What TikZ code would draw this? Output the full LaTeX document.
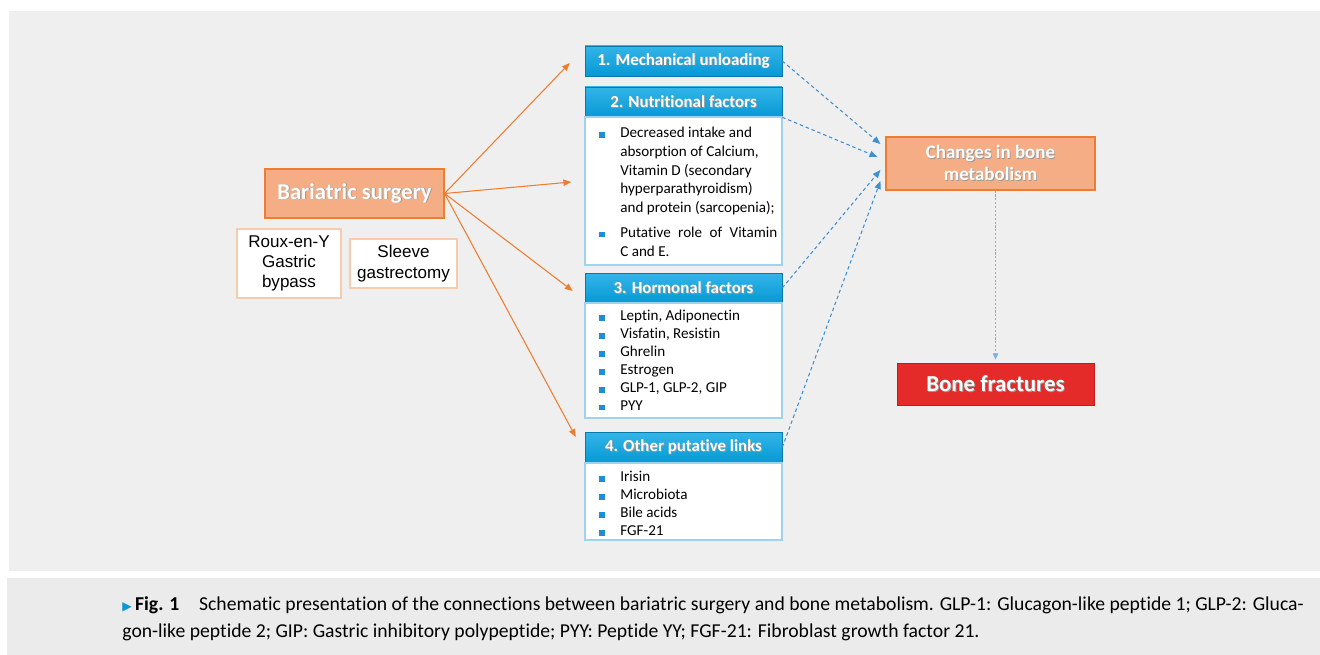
\documentclass[tikz,border=0pt]{standalone}
\usepackage{fontspec}
\usepackage{array}
\setmainfont{Carlito}[Ligatures=NoCommon]
\newfontfamily\arialfont{Liberation Sans}
\newfontfamily\symfont{DejaVu Sans}
\usepackage{xcolor}
\usetikzlibrary{arrows.meta, positioning, calc, shadows}

\definecolor{panelgray}{HTML}{EFEFEF}
\definecolor{capgray}{HTML}{EBEBEB}
\definecolor{peach}{HTML}{F5AD85}
\definecolor{peachline}{HTML}{ED7D31}
\definecolor{peachlight}{HTML}{F8CBAD}
\definecolor{headtop}{HTML}{33B5E8}
\definecolor{headbot}{HTML}{0798D5}
\definecolor{bodyline}{HTML}{9DD3EE}
\definecolor{bulblue}{HTML}{1E8FD6}
\definecolor{arrblue}{HTML}{3F8FD2}
\definecolor{fracred}{HTML}{E52A2A}
\definecolor{fracline}{HTML}{C01C1C}

\newcommand{\bsq}{\textcolor{bulblue}{\rule{3.2pt}{3.2pt}}}
% white text with a faint shadow
\newcommand{\shd}[1]{\makebox[0pt][l]{\hspace{0.5pt}\raisebox{-0.5pt}{\textcolor{black!40}{#1}}}#1}

\begin{document}
\begin{tikzpicture}[x=0.02cm, y=-0.02cm,
	orangebox/.style={draw=peachline, fill=peach, line width=0.7pt, text=white, font=\bfseries},
	typebox/.style={draw=peachlight, fill=white, line width=0.7pt, font=\arialfont\fontsize{9.7}{11.6}\selectfont, align=center},
	headbox/.style={top color=headtop, bottom color=headbot, draw=headbot!80!black, line width=0.3pt, text=white, font=\bfseries\fontsize{9.6}{10}\selectfont, minimum width=3.94cm, drop shadow={opacity=0.25, shadow xshift=0.6pt, shadow yshift=-0.8pt}},
	bodybox/.style={draw=bodyline, fill=white, line width=0.8pt, minimum width=3.94cm},
	listtext/.style={anchor=north west, inner sep=0pt},
	surgarrow/.style={draw=peachline, line width=0.6pt, -{Triangle[length=4.5pt, width=3.6pt]}},
	linkarrow/.style={draw=arrblue, line width=0.6pt, dash pattern=on 2pt off 1.6pt, -{Triangle[length=4.5pt, width=3.6pt]}}
	]
	\useasboundingbox (0,0) rectangle (1320,655);
	\fill[white] (0,0) rectangle (1320,655);
	\fill[panelgray] (9,11) rectangle (1320,571);
	\fill[capgray] (7,578) rectangle (1320,655);

	% surgery and its two types
	\node[orangebox, minimum width=3.58cm, minimum height=0.98cm, font=\bfseries\fontsize{12.9}{14}\selectfont] (bar) at (354.5,193.5) {\shd{Bariatric surgery}};
	\node[typebox, minimum width=2.08cm, minimum height=1.38cm] (rygb) at (289,263.5) {Roux-en-Y\\Gastric\\bypass};
	\node[typebox, minimum width=2.14cm, minimum height=0.98cm] (sleeve) at (403.5,263.5) {Sleeve\\gastrectomy};

	% the four groups of factors
	\node[headbox, minimum height=0.60cm] (mech) at (683.5,61) {\shd{1. Mechanical unloading}};
	\node[headbox, minimum height=0.60cm] (nhead) at (683.5,102) {\shd{2. Nutritional factors}};
	\node[bodybox, minimum height=2.96cm] (nbody) at (683.5,191) {};
	\node[headbox, minimum height=0.60cm] (hhead) at (683.5,288) {\shd{3. Hormonal factors}};
	\node[bodybox, minimum height=2.30cm] (hbody) at (683.5,360.5) {};
	\node[headbox, minimum height=0.62cm] (ohead) at (683.5,447.5) {\shd{4. Other putative links}};
	\node[bodybox, minimum height=1.54cm] (obody) at (683.5,501.5) {};

	\node[listtext, font=\fontsize{8.6}{10.7}\selectfont] (nlist) at (599,124) {\begin{tabular}{@{}p{0.42cm}@{}p{3.14cm}@{}}
		\bsq & Decreased intake and\newline absorption of Calcium,\newline Vitamin D (secondary\newline hyperparathyroidism)\newline and protein (sarcopenia);\\ \noalign{\vskip 3.4pt}
		\bsq & Putative role of Vitamin\linebreak C and E.
	\end{tabular}};
	\node[listtext, font=\fontsize{8.6}{10.2}\selectfont] (hlist) at (599,308) {\begin{tabular}{@{}p{0.42cm}@{}l@{}}
		\bsq & Leptin, Adiponectin\\
		\bsq & Visfatin, Resistin\\
		\bsq & Ghrelin\\
		\bsq & Estrogen\\
		\bsq & GLP-1, GLP-2, GIP\\
		\bsq & PYY
	\end{tabular}};
	\node[listtext, font=\fontsize{8.6}{10.2}\selectfont] (olist) at (599,469) {\begin{tabular}{@{}p{0.42cm}@{}l@{}}
		\bsq & Irisin\\
		\bsq & Microbiota\\
		\bsq & Bile acids\\
		\bsq & FGF-21
	\end{tabular}};

	% outcome
	\node[orangebox, minimum width=4.18cm, minimum height=1.06cm, align=center, font=\bfseries\fontsize{10.8}{12.4}\selectfont] (bone) at (990.5,163.5) {\shd{Changes in bone}\\\shd{metabolism}};
	\node[draw=fracline, fill=fracred, line width=0.5pt, text=white, font=\bfseries\fontsize{13}{14}\selectfont, minimum width=3.94cm, minimum height=0.84cm] (frac) at (995.5,384) {\shd{Bone fractures}};

	\draw[surgarrow] (bar.east) -- ($(mech.west)+(-15,2)$);
	\draw[surgarrow] (bar.east) -- ($(nbody.west)+(-13,-9)$);
	\draw[surgarrow] (bar.east) -- ($(hhead.west)+(-12,3)$);
	\draw[surgarrow] (bar.east) -- ($(ohead.west)+(-9,-10.5)$);

	\draw[linkarrow] (mech.east) -- ($(bone.west)+(-5,-19.5)$);
	\draw[linkarrow] (nhead.south east) -- ($(bone.west)+(-8,-6.5)$);
	\draw[linkarrow] (hhead.east) -- ($(bone.west)+(-5,6.5)$);
	\draw[linkarrow] (ohead.east) -- ($(bone.west)+(-5,17.5)$);
	\draw[draw=arrblue!70, line width=0.4pt, dash pattern=on 1.2pt off 1pt, -{Triangle[length=3.5pt, width=3pt]}] (bone.south -| frac.north) -- ($(frac.north)+(0,-3)$);

	% caption
	\node[anchor=west, inner sep=0pt, font=\fontsize{11.2}{13}\selectfont] (cap1) at (122,605) {{\symfont\fontsize{7}{8}\selectfont\textcolor{headbot}{▶}}\,\textbf{Fig. 1}\quad Schematic presentation of the connections between bariatric surgery and bone metabolism. GLP-1: Glucagon-like peptide 1; GLP-2: Gluca-};
	\node[anchor=west, inner sep=0pt, font=\fontsize{11.2}{13}\selectfont] (cap2) at (122,632) {gon-like peptide 2; GIP: Gastric inhibitory polypeptide; PYY: Peptide YY; FGF-21: Fibroblast growth factor 21.};
\end{tikzpicture}
\end{document}
